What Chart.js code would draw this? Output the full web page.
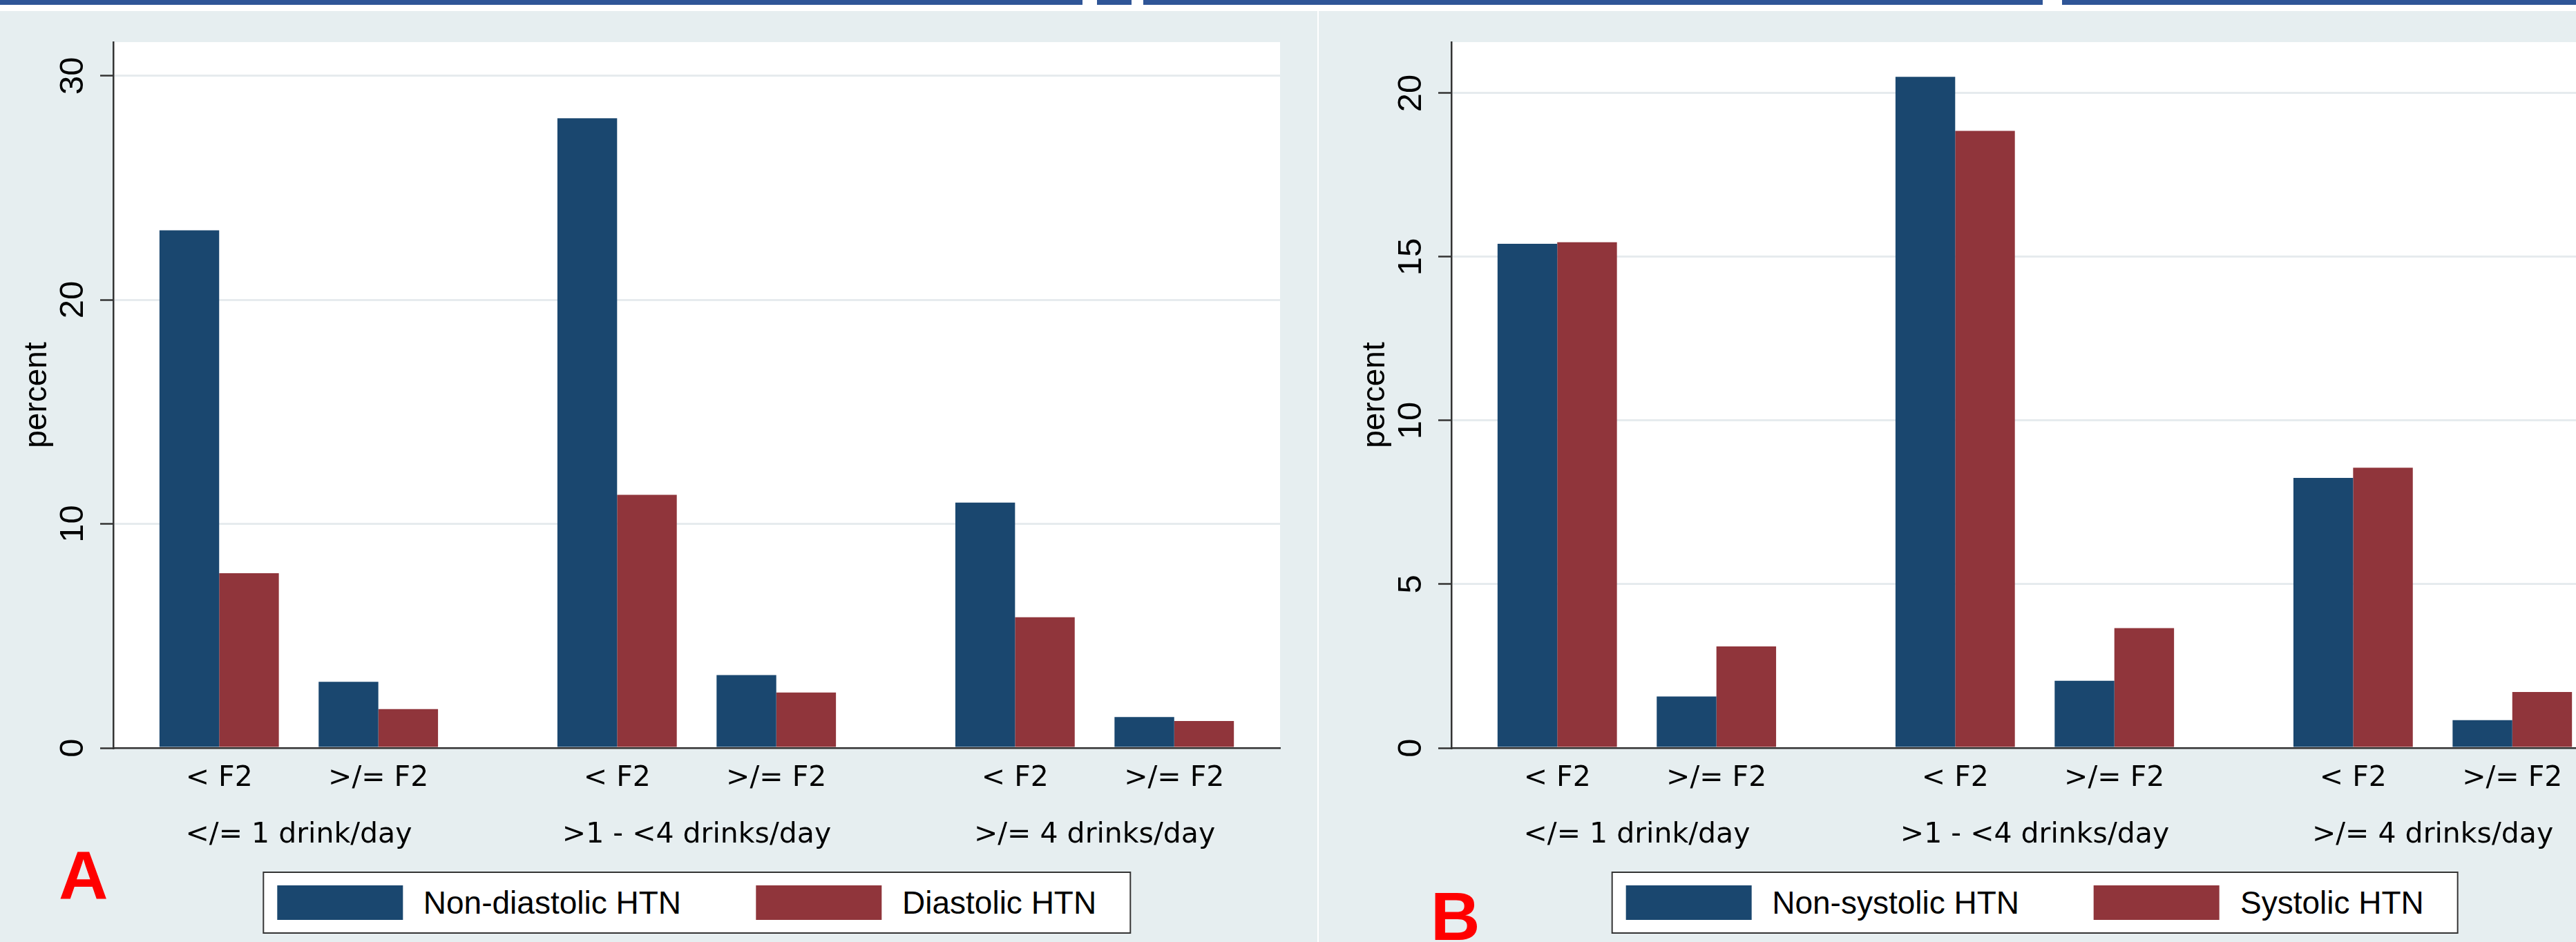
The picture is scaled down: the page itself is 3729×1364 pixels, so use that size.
<!DOCTYPE html>
<html>
<head>
<meta charset="UTF-8">
<title>Percent by drinks per day and fibrosis stage</title>
<script src="https://cdn.jsdelivr.net/npm/chart.js@4.4.1/dist/chart.umd.min.js"></script>
<style>
  html, body { margin: 0; padding: 0; background: #fff; overflow: hidden; }
  body { position: relative; width: 3729px; height: 1364px; }
  .band {
    position: absolute; left: 0; top: 0; width: 3729px; height: 7px;
    background: linear-gradient(to right,
      #2f5597 0 1567px, #fff 1567px 1588px, #2f5597 1588px 1638px, #fff 1638px 1655px,
      #2f5597 1655px 2957px, #fff 2957px 2985px, #2f5597 2985px);
  }
  .panel { position: absolute; top: 16px; height: 1348px; background: #e6eef0; }
  .chartbox { position: absolute; top: 16px; width: 1907px; height: 1348px; }
  .legend {
    position: absolute; top: 1262px; height: 86px;
    display: flex; align-items: center;
    padding: 0 48px 0 19px;
    border: 2px solid #333; background: #fff;
    transform: translateX(-50%);
    font: 46px "Liberation Sans", Arial, sans-serif; color: #000;
    white-space: nowrap;
  }
  .legend .sw { width: 182px; height: 50px; margin-right: 30px; }
  .legend .sw.next { margin-left: 108px; }
  .letter {
    position: absolute; font: bold 99px "Liberation Sans", Arial, sans-serif;
    line-height: 1; color: #f00;
  }
</style>
</head>
<body>
<div class="band"></div>
<div class="panel" style="left:0; width:1907px;"></div>
<div class="panel" style="left:1909px; width:1820px;"></div>
<div class="chartbox" id="boxA" style="left:0;"><canvas id="chartA" width="1907" height="1348"></canvas></div>
<div class="chartbox" id="boxB" style="left:1937px;"><canvas id="chartB" width="1907" height="1348"></canvas></div>
<div class="letter" style="left:85px; top:1217px;">A</div>
<div class="letter" style="left:2071px; top:1277px;">B</div>
<script>
const drinkGroups = ['</= 1 drink/day', '>1 - <4 drinks/day', '>/= 4 drinks/day'];
const fibrosisLevels = ['< F2', '>/= F2'];

const diastolicSeries = ['Non-diastolic HTN', 'Diastolic HTN'];
const nonDiastolicPct = [23.1, 2.95, 28.1, 3.25, 10.95, 1.38];
const diastolicPct = [7.8, 1.73, 11.3, 2.47, 5.83, 1.2];

const systolicSeries = ['Non-systolic HTN', 'Systolic HTN'];
const nonSystolicPct = [15.4, 1.57, 20.5, 2.05, 8.25, 0.85];
const systolicPct = [15.45, 3.1, 18.85, 3.66, 8.56, 1.71];

const yTicksA = [0, 10, 20, 30];
const yTicksB = [0, 5, 10, 15, 20];

const NAVY = '#1a476f';
const MAROON = '#90353b';
const AXIS = '#333';

// two fibrosis bars per drinking group, groups spaced 5 units apart
function slot(i) { return Math.floor(i / 2) * 5 + (i % 2) * 2; }
const barSlots = fibrosisLevels.concat(fibrosisLevels, fibrosisLevels).map((f, i) => slot(i));
const groupSlots = drinkGroups.map((g, i) => i * 5 + 1);

function points(values) {
  return values.map((v, i) => ({ x: slot(i), y: v }));
}

const plotBackground = {
  id: 'plotBackground',
  beforeDraw(chart) {
    const { ctx, chartArea: a } = chart;
    ctx.save();
    ctx.fillStyle = '#fff';
    ctx.fillRect(a.left, a.top, a.width, a.height);
    ctx.restore();
  }
};

function drawPanel(canvasId, yMax, yTicks, names, first, second) {
  const xFont = { family: 'DejaVu Sans', size: 41, lineHeight: 1.2 };
  return new Chart(document.getElementById(canvasId), {
    type: 'bar',
    data: {
      datasets: [
        { label: names[0], data: points(first), backgroundColor: NAVY, borderWidth: 0 },
        { label: names[1], data: points(second), backgroundColor: MAROON, borderWidth: 0 }
      ]
    },
    options: {
      responsive: false,
      devicePixelRatio: 1,
      animation: false,
      events: [],
      barPercentage: 1,
      categoryPercentage: 0.75,
      layout: { padding: { left: 0, top: 45, right: 54, bottom: 117 } },
      plugins: { legend: { display: false }, tooltip: { enabled: false } },
      scales: {
        x: {
          type: 'linear', position: 'bottom', weight: 0, offset: false,
          min: -1.33, max: 13.33, z: 1,
          afterBuildTicks: axis => { axis.ticks = barSlots.map(v => ({ value: v })); },
          ticks: {
            autoSkip: false, maxRotation: 0, padding: 19.4, color: '#000', font: xFont,
            callback: v => fibrosisLevels[(v % 5) / 2]
          },
          grid: { display: false, drawTicks: false },
          border: { display: true, color: AXIS, width: 2.5 }
        },
        x2: {
          type: 'linear', position: 'bottom', weight: 1, offset: false,
          min: -1.33, max: 13.33,
          afterBuildTicks: axis => { axis.ticks = groupSlots.map(v => ({ value: v })); },
          ticks: {
            autoSkip: false, maxRotation: 0, padding: 13.4, color: '#000', font: xFont,
            callback: v => drinkGroups[(v - 1) / 5]
          },
          grid: { display: false, drawTicks: false },
          border: { display: false }
        },
        y: {
          type: 'linear', min: 0, max: yMax,
          afterBuildTicks: axis => { axis.ticks = yTicks.map(v => ({ value: v })); },
          ticks: {
            minRotation: 90, maxRotation: 90, crossAlign: 'center', padding: 10.8,
            color: '#000', font: { family: 'Liberation Sans', size: 49, lineHeight: 0.735 }
          },
          grid: {
            color: c => (c.tick && c.tick.value === 0 ? 'rgba(0,0,0,0)' : '#e6ebee'),
            lineWidth: 3, tickColor: AXIS, tickWidth: 2.5, tickLength: 19
          },
          border: { display: true, color: AXIS, width: 2.5 },
          title: {
            display: true, text: 'percent', color: '#000',
            font: { family: 'Liberation Sans', size: 46, lineHeight: 1.2 },
            padding: { top: 26.8, bottom: 5.4 }
          }
        }
      }
    },
    plugins: [plotBackground]
  });
}

function addLegend(chart, boxId) {
  const box = document.getElementById(boxId);
  const area = chart.chartArea;
  const legend = document.createElement('div');
  legend.className = 'legend';
  legend.style.left = (box.offsetLeft + (area.left + area.right) / 2) + 'px';
  chart.data.datasets.forEach((ds, i) => {
    const sw = document.createElement('span');
    sw.className = i > 0 ? 'sw next' : 'sw';
    sw.style.background = ds.backgroundColor;
    const txt = document.createElement('span');
    txt.textContent = ds.label;
    legend.appendChild(sw);
    legend.appendChild(txt);
  });
  document.body.appendChild(legend);
}

const chartA = drawPanel('chartA', 31.5, yTicksA, diastolicSeries, nonDiastolicPct, diastolicPct);
const chartB = drawPanel('chartB', 21.56, yTicksB, systolicSeries, nonSystolicPct, systolicPct);
addLegend(chartA, 'boxA');
addLegend(chartB, 'boxB');
</script>
</body>
</html>
